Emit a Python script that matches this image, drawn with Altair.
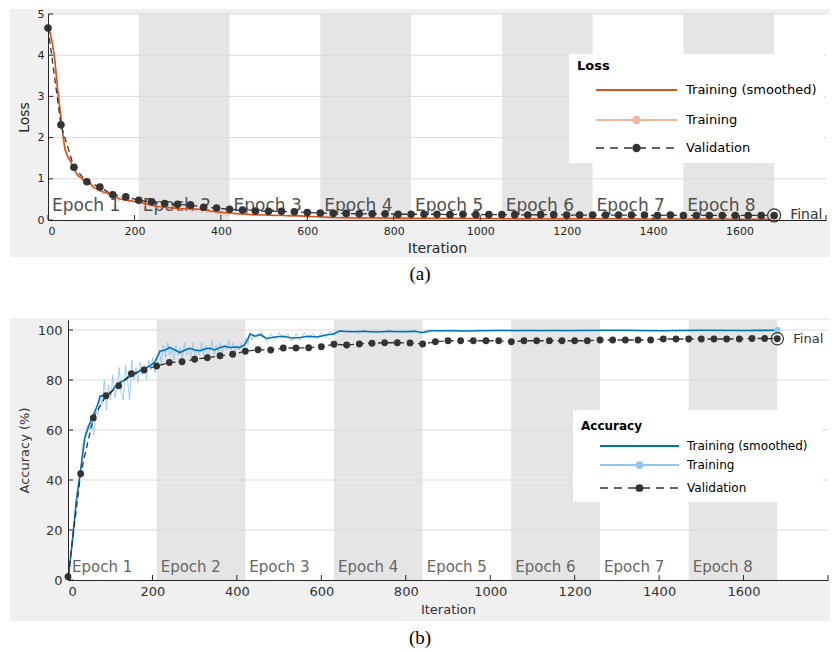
import altair as alt
import pandas as pd

FONT = "DejaVu Sans"

# ---------------- data ----------------
EPOCH_NAMES = ["Epoch 1", "Epoch 2", "Epoch 3", "Epoch 4", "Epoch 5", "Epoch 6", "Epoch 7", "Epoch 8"]
EPOCH_START = [0, 210, 420, 630, 840, 1050, 1260, 1470]
EPOCH_END = [210, 420, 630, 840, 1050, 1260, 1470, 1680]

X_TICKS = [0, 200, 400, 600, 800, 1000, 1200, 1400, 1600, 1800]
X_LABELS = [0, 200, 400, 600, 800, 1000, 1200, 1400, 1600]
LOSS_TICKS = [0, 1, 2, 3, 4, 5]
ACC_TICKS = [0, 20, 40, 60, 80, 100]
LEGEND_LABELS = ["Training (smoothed)", "Training", "Validation"]

VAL_ITER = [0, 30, 60, 90, 120, 150, 180, 210, 240, 270, 300, 330, 360, 390, 420, 450, 480, 510,
            540, 570, 600, 630, 660, 690, 720, 750, 780, 810, 840, 870, 900, 930, 960, 990, 1020,
            1050, 1080, 1110, 1140, 1170, 1200, 1230, 1260, 1290, 1320, 1350, 1380, 1410, 1440,
            1470, 1500, 1530, 1560, 1590, 1620, 1650, 1680]

LOSS_VAL = [4.66, 2.31, 1.28, 0.93, 0.80, 0.61, 0.56, 0.48, 0.44, 0.40, 0.38, 0.36, 0.31, 0.29,
            0.26, 0.24, 0.22, 0.21, 0.21, 0.20, 0.18, 0.17, 0.16, 0.16, 0.15, 0.15, 0.15, 0.14,
            0.14, 0.14, 0.14, 0.13, 0.14, 0.13, 0.13, 0.13, 0.13, 0.12, 0.13, 0.13, 0.12, 0.12,
            0.12, 0.12, 0.12, 0.12, 0.12, 0.11, 0.12, 0.11, 0.11, 0.11, 0.11, 0.11, 0.11, 0.11, 0.11]

ACC_VAL = [1.3, 42.5, 64.8, 73.7, 77.7, 82.5, 84.0, 85.6, 87.0, 87.3, 88.3, 88.9, 89.7, 90.3,
           91.5, 92.1, 92.0, 92.8, 92.8, 92.9, 93.3, 94.3, 94.0, 94.4, 94.7, 94.9, 94.9, 94.8,
           94.4, 95.3, 95.7, 95.7, 95.7, 95.7, 95.7, 95.3, 95.7, 95.7, 95.7, 95.7, 95.7, 95.7,
           96.0, 96.0, 96.0, 96.0, 96.0, 96.4, 96.4, 96.4, 96.4, 96.4, 96.4, 96.4, 96.6, 96.6, 96.5]

LOSS_SMOOTH_ITER = [1, 5, 10, 16, 22, 28, 34, 39, 45, 51, 57, 62, 68, 74, 85, 97, 108, 120, 132,
                    143, 155, 166, 178, 189, 200, 212, 225, 240, 258, 280, 304, 330, 351, 375, 397,
                    420, 443, 470, 500, 540, 580, 620, 660, 700, 760, 840, 900, 1000, 1100, 1200,
                    1300, 1400, 1500, 1600, 1680]
LOSS_SMOOTH = [4.62, 4.55, 4.30, 3.87, 3.20, 2.66, 2.10, 1.72, 1.55, 1.44, 1.30, 1.20, 1.10, 1.04,
               0.95, 0.88, 0.78, 0.71, 0.67, 0.63, 0.57, 0.51, 0.49, 0.47, 0.45, 0.44, 0.40, 0.36,
               0.32, 0.30, 0.28, 0.27, 0.26, 0.22, 0.19, 0.17, 0.15, 0.13, 0.12, 0.11, 0.10, 0.08,
               0.06, 0.05, 0.05, 0.04, 0.04, 0.035, 0.03, 0.03, 0.03, 0.025, 0.025, 0.02, 0.02]

LOSS_RAW_ITER = [1, 7, 13, 19, 25, 31, 37, 43, 49, 55, 61, 67, 73, 79, 85, 91, 97, 103, 109, 115,
                 121, 127, 133, 139, 145, 151, 157, 163, 169, 175, 181, 187, 193, 199, 205, 211,
                 217, 223, 229, 235, 241, 247, 253, 259, 265, 271, 277, 283, 289, 295, 301, 307,
                 313, 319, 325, 331, 337, 343, 349, 355, 361, 367, 373, 379, 385, 391, 397, 403,
                 409, 415, 421, 440, 460, 480, 500, 520, 540, 560, 580, 600, 630, 660, 690, 720,
                 750, 780, 810, 840, 870, 900, 950, 1000, 1050, 1100, 1150, 1200, 1250, 1300,
                 1350, 1400, 1450, 1500, 1550, 1600, 1650, 1680]
LOSS_RAW = [4.65, 4.45, 4.10, 3.50, 2.90, 2.40, 1.95, 1.60, 1.52, 1.35, 1.25, 1.05, 1.12, 0.95,
            1.02, 0.85, 0.95, 0.75, 0.88, 0.68, 0.80, 0.62, 0.72, 0.58, 0.70, 0.52, 0.62, 0.45,
            0.58, 0.44, 0.55, 0.42, 0.52, 0.40, 0.50, 0.38, 0.48, 0.33, 0.42, 0.30, 0.40, 0.28,
            0.36, 0.26, 0.35, 0.25, 0.34, 0.24, 0.33, 0.25, 0.31, 0.22, 0.32, 0.23, 0.30, 0.21,
            0.30, 0.20, 0.28, 0.17, 0.26, 0.16, 0.24, 0.15, 0.22, 0.13, 0.20, 0.12, 0.18, 0.11,
            0.16, 0.12, 0.16, 0.10, 0.14, 0.09, 0.13, 0.08, 0.12, 0.07, 0.10, 0.05, 0.08, 0.04,
            0.07, 0.04, 0.06, 0.03, 0.05, 0.03, 0.05, 0.03, 0.04, 0.02, 0.04, 0.02, 0.04, 0.02,
            0.03, 0.02, 0.03, 0.02, 0.03, 0.02, 0.03, 0.02]

ACC_SMOOTH_ITER = [1, 10, 20, 30, 40, 50, 60, 70, 76, 90, 100, 110, 123, 135, 147, 160, 170, 182,
                   194, 205, 218, 230, 241, 253, 265, 277, 289, 300, 313, 325, 336, 348, 360, 372,
                   384, 396, 407, 418, 425, 431, 443, 455, 470, 490, 510, 530, 550, 570, 590, 610,
                   628, 644, 670, 700, 730, 760, 790, 820, 840, 860, 900, 950, 1000, 1100, 1200,
                   1300, 1400, 1500, 1600, 1680]
ACC_SMOOTH = [1, 15, 32, 44, 57, 62, 66, 70, 73.5, 74, 74.5, 77, 79, 80, 81.5, 82.5, 83.7, 84.5,
              85.7, 87, 91.5, 92, 93, 92, 91, 92, 92.7, 92, 91.7, 92.5, 92.7, 92, 93, 93.5, 93,
              93.2, 93, 94, 96, 98.4, 97.5, 98.2, 96.6, 97.2, 97.5, 96.8, 97, 97.5, 97.2, 98, 98.4,
              99.6, 99.3, 99.5, 99.2, 99.5, 99.3, 99.5, 99.0, 99.7, 99.7, 99.6, 99.8, 99.8, 99.8,
              99.9, 99.7, 99.9, 99.8, 99.9]

ACC_RAW_ITER = [1, 6, 11, 16, 21, 26, 31, 36, 41, 46, 51, 56, 61, 66, 71, 76, 81, 86, 91, 96, 101,
                106, 111, 116, 121, 126, 131, 136, 141, 146, 151, 156, 161, 166, 171, 176, 181,
                186, 191, 196, 201, 206, 211, 216, 221, 226, 231, 236, 241, 246, 251, 256, 261,
                266, 271, 276, 281, 286, 291, 296, 301, 306, 311, 316, 321, 326, 331, 336, 341,
                346, 351, 356, 361, 366, 371, 376, 381, 386, 391, 396, 401, 406, 411, 416, 421,
                426, 431, 436, 441, 450, 460, 470, 480, 490, 500, 510, 520, 530, 540, 550, 560,
                570, 580, 590, 600, 610, 620, 630, 640, 655, 670, 685, 700, 715, 730, 745, 760,
                775, 790, 805, 820, 835, 850, 880, 910, 940, 970, 1000, 1030, 1060, 1090, 1120,
                1150, 1180, 1210, 1240, 1270, 1300, 1330, 1360, 1390, 1420, 1450, 1480, 1510,
                1540, 1570, 1600, 1630, 1660, 1680]
ACC_RAW = [0, 8, 18, 25, 35, 40, 46, 55, 58, 62, 60, 64, 58, 68, 66, 74, 70, 80, 68, 78, 72, 82,
           73, 76, 85, 75, 72, 86, 80, 72, 88, 80, 85, 79, 87, 82, 86, 80, 88, 84, 89, 83, 87, 92,
           86, 94, 89, 95, 90, 92, 88, 94, 90, 93, 88, 95, 90, 93, 89, 95, 88, 93, 90, 95, 90, 94,
           89, 92, 96, 90, 94, 91, 95, 91, 94, 92, 96, 92, 95, 91, 94, 92, 95, 93, 97, 94, 99, 96,
           98, 97, 99, 95.5, 98.5, 96, 99, 96.5, 98.5, 95.5, 98.5, 96, 99, 96.5, 98.5, 96.5, 99,
           97, 99.5, 98, 100, 99, 100, 98.5, 100, 99, 100, 98.8, 100, 99, 100, 98.8, 100, 98.5,
           100, 99.5, 100, 99.4, 100, 99.6, 100, 99.5, 100, 99.6, 100, 99.5, 100, 99.6, 100, 99.7,
           100, 99.6, 100, 99.7, 100, 99.6, 100, 99.7, 100, 99.7, 100, 99.8, 100]

ONE = pd.DataFrame({"k": [0]})
RIGHT = 782  # right edge of the grey figure area (plot-x pixels)


def vtext(x, y, txt, **kw):
    return alt.Chart(ONE).mark_text(font=FONT, **kw).encode(
        x=alt.value(x), y=alt.value(y), text=alt.value(txt))


def make_panel(p):
    W, H, X0 = p["W"], p["H"], p["X0"]
    xs = alt.Scale(domain=[0, 1800], range=[X0, W], nice=False, zero=False)
    ys = alt.Scale(domain=p["ydom"], nice=False, zero=False)
    xaxis = alt.Axis(values=X_LABELS, title="Iteration", format="d", ticks=False, tickSize=0,
                     grid=False, domainColor="#262626", labelFont=FONT, labelFontSize=p["tfs"],
                     labelColor=p["lc"], labelPadding=p["xlp"], labelOverlap=False,
                     titleFont=FONT, titleFontSize=p["ttfs"], titleFontWeight="normal",
                     titleColor=p["lc"], titlePadding=p["xtp"], zindex=2)
    yaxis = alt.Axis(values=p["yticks"], title=p["ytitle"], format="d", ticks=False, tickSize=0,
                     grid=False, domainColor="#262626", labelFont=FONT, labelFontSize=p["tfs"],
                     labelColor=p["lc"], labelPadding=p["ylp"], labelOverlap=False,
                     titleFont=FONT, titleFontSize=p["ttfs"], titleFontWeight="normal",
                     titleColor=p["lc"], titlePadding=p["ytp"], offset=-X0, zindex=2)

    def X(f):
        return alt.X(f, type="quantitative", scale=xs, axis=xaxis)

    def Y(f):
        return alt.Y(f, type="quantitative", scale=ys, axis=yaxis)

    layers = []
    # grey figure background and white plot area
    layers.append(alt.Chart(ONE).mark_rect(color="#f0f0f0").encode(
        x=alt.value(-38), x2=alt.value(RIGHT), y=alt.value(p["gtop"]), y2=alt.value(p["gbot"])))
    layers.append(alt.Chart(ONE).mark_rect(color="white").encode(
        x=alt.value(X0), x2=alt.value(min(W + 6, RIGHT)), y=alt.value(0), y2=alt.value(H)))
    # epoch bands
    bands = pd.DataFrame({"start": EPOCH_START[1::2], "end": EPOCH_END[1::2]})
    layers.append(alt.Chart(bands).mark_rect(color="#e5e5e5").encode(
        x=X("start"), x2="end", y=alt.value(0), y2=alt.value(H)))
    # grid
    grid = pd.DataFrame({"v": p["yticks"][1:]})
    layers.append(alt.Chart(grid).mark_rule(color="#dadada", strokeWidth=1).encode(
        y=Y("v"), x=alt.value(X0), x2=alt.value(W)))
    # epoch labels
    ep = pd.DataFrame({"start": EPOCH_START, "name": EPOCH_NAMES})
    layers.append(alt.Chart(ep).mark_text(align="left", baseline="middle", dx=4, font=FONT,
                                          fontSize=p["efs"], color=p["ec"]).encode(
        x=X("start"), y=alt.value(H - p["ey"]), text="name"))
    # training raw and smoothed
    raw = pd.DataFrame({"it": p["raw_it"], "v": p["raw"]})
    layers.append(alt.Chart(raw).mark_line(color=p["c_raw"], strokeWidth=1, opacity=0.85).encode(
        x=X("it"), y=Y("v")))
    sm = pd.DataFrame({"it": p["sm_it"], "v": p["sm"]})
    layers.append(alt.Chart(sm).mark_line(color=p["c_sm"], strokeWidth=1.6).encode(
        x=X("it"), y=Y("v")))
    # end point of training
    layers.append(alt.Chart(raw.tail(1)).mark_point(filled=True, color=p["c_raw"], size=40,
                                                    opacity=1).encode(x=X("it"), y=Y("v")))
    # validation
    val = pd.DataFrame({"it": VAL_ITER, "v": p["val"]})
    layers.append(alt.Chart(val).mark_line(color="#333333", strokeWidth=1.3,
                                           strokeDash=[6, 4]).encode(x=X("it"), y=Y("v")))
    layers.append(alt.Chart(val).mark_point(filled=True, color="#333333", size=p["psize"],
                                            opacity=1).encode(x=X("it"), y=Y("v")))
    fin = val.tail(1)
    layers.append(alt.Chart(fin).mark_point(shape="circle", filled=False, color="#333333",
                                            size=p["rsize"], strokeWidth=1.2, opacity=1).encode(
        x=X("it"), y=Y("v")))
    layers.append(alt.Chart(fin).mark_text(text="Final", align="left", baseline="middle", dx=16,
                                           font=FONT, fontSize=p["ffs"], color="#333333").encode(
        x=X("it"), y=Y("v")))
    # inward ticks
    xt = pd.DataFrame({"t": X_TICKS})
    layers.append(alt.Chart(xt).mark_rule(color="#262626").encode(
        x=X("t"), y=alt.value(H), y2=alt.value(H - 5)))
    yt = pd.DataFrame({"v": p["yticks"]})
    layers.append(alt.Chart(yt).mark_rule(color="#262626").encode(
        y=Y("v"), x=alt.value(X0), x2=alt.value(X0 + 5)))
    # legend
    L = p["leg"]
    layers.append(alt.Chart(ONE).mark_rect(color="white").encode(
        x=alt.value(L["x1"]), x2=alt.value(L["x2"]), y=alt.value(L["y1"]), y2=alt.value(L["y2"])))
    layers.append(vtext(L["tx"], L["ty"], p["ltitle"], align="left", baseline="middle",
                        fontWeight="bold", fontSize=L["fs"], color="black"))
    colors = [p["c_sm"], p["c_raw"], "#333333"]
    mid = (L["lx1"] + L["lx2"]) / 2
    for i, lab in enumerate(LEGEND_LABELS):
        yy = L["ys"][i]
        if i == 2:
            layers.append(alt.Chart(ONE).mark_rule(color=colors[i], strokeWidth=1.4,
                                                   strokeDash=[8, 6]).encode(
                x=alt.value(L["lx1"]), x2=alt.value(L["lx2"]), y=alt.value(yy)))
        else:
            layers.append(alt.Chart(ONE).mark_rule(color=colors[i], strokeWidth=1.8).encode(
                x=alt.value(L["lx1"]), x2=alt.value(L["lx2"]), y=alt.value(yy)))
        if i > 0:
            layers.append(alt.Chart(ONE).mark_point(filled=True, color=colors[i], opacity=1,
                                                    size=L["ps"]).encode(
                x=alt.value(mid), y=alt.value(yy)))
        layers.append(vtext(L["txt"], yy, lab, align="left", baseline="middle",
                            fontSize=L["fs"], color="black"))
    # caption
    layers.append(alt.Chart(ONE).mark_text(font="Liberation Serif", fontSize=19,
                                           color="black").encode(
        x=alt.value(372), y=alt.value(p["capy"]), text=alt.value(p["cap"])))
    return alt.layer(*layers).properties(width=W, height=H)


pa = dict(W=778, H=206, X0=0, ydom=[0, 5], yticks=LOSS_TICKS, ytitle="Loss",
          tfs=11, ttfs=14, lc="#262626", xlp=5, xtp=5, ylp=4, ytp=6,
          gtop=-5, gbot=243, efs=17, ec="#505050", ey=14,
          raw_it=LOSS_RAW_ITER, raw=LOSS_RAW, sm_it=LOSS_SMOOTH_ITER, sm=LOSS_SMOOTH,
          val=LOSS_VAL, c_raw="#f2b59b", c_sm="#d95319", psize=58, rsize=170, ffs=14,
          ltitle="Loss",
          leg=dict(x1=521, x2=776, y1=40, y2=149, tx=529, ty=52, lx1=548, lx2=629, txt=638,
                   ys=[76, 106, 134], fs=13, ps=70),
          cap="(a)", capy=260)

pb = dict(W=780, H=260, X0=20, ydom=[0, 104], yticks=ACC_TICKS, ytitle="Accuracy (%)",
          tfs=13, ttfs=13, lc="#333333", xlp=5, xtp=5, ylp=6, ytp=6,
          gtop=-2, gbot=301, efs=15, ec="#666666", ey=13,
          raw_it=ACC_RAW_ITER, raw=ACC_RAW, sm_it=ACC_SMOOTH_ITER, sm=ACC_SMOOTH,
          val=ACC_VAL, c_raw="#93c6ec", c_sm="#0072bd", psize=46, rsize=150, ffs=13,
          ltitle="Accuracy",
          leg=dict(x1=525, x2=774, y1=90, y2=182, tx=533, ty=106, lx1=552, lx2=631, txt=639,
                   ys=[126, 145, 168], fs=12, ps=60),
          cap="(b)", capy=318)

chart = alt.vconcat(make_panel(pa), make_panel(pb), spacing=100, bounds="flush").configure_view(
    strokeWidth=0).properties(background="white",
                              padding={"left": 2, "top": 0, "right": 0, "bottom": 0})

chart.save("out.html", embed_options={"renderer": "svg", "actions": False})
